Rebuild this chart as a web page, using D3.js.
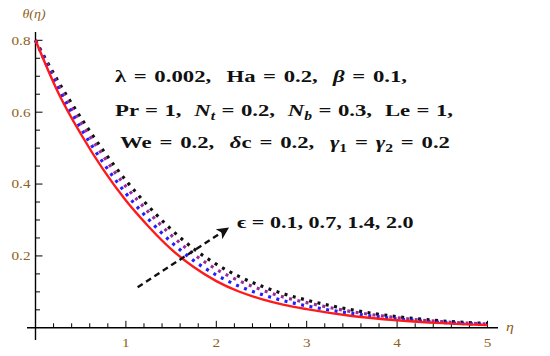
<!DOCTYPE html>
<html>
<head>
<meta charset="utf-8">
<script src="https://cdn.jsdelivr.net/npm/d3@7"></script>
<style>
  body { margin: 0; background: #fff; }
  svg { display: block; }
</style>
</head>
<body>
<div id="chart"></div>
<script>
// eta grid and theta(eta) profiles
var eta = [0, 0.25, 0.5, 0.75, 1, 1.25, 1.5, 1.75, 2, 2.25, 2.5, 2.75, 3, 3.5, 4, 4.5, 5];
var theta_01 = [0.800, 0.655, 0.540, 0.440, 0.354, 0.282, 0.219, 0.169, 0.130, 0.101, 0.080, 0.064, 0.052, 0.033, 0.021, 0.013, 0.0075];
var theta_07 = [0.800, 0.666, 0.556, 0.459, 0.374, 0.302, 0.239, 0.187, 0.147, 0.116, 0.093, 0.075, 0.061, 0.040, 0.025, 0.015, 0.009];
var theta_14 = [0.800, 0.676, 0.572, 0.478, 0.393, 0.322, 0.258, 0.205, 0.163, 0.131, 0.106, 0.085, 0.070, 0.045, 0.028, 0.017, 0.0105];
var theta_20 = [0.800, 0.686, 0.585, 0.493, 0.410, 0.338, 0.274, 0.220, 0.177, 0.143, 0.116, 0.094, 0.077, 0.050, 0.031, 0.019, 0.012];

var xMajor = [1, 2, 3, 4, 5];
var yMajor = [0.2, 0.4, 0.6, 0.8];

// arrow annotation, in data units (start, end)
var arrowPts = [[1.13, 0.113], [2.13, 0.277]];

var width = 550, height = 356;
var serif = "'Liberation Serif', 'Times New Roman', 'DejaVu Serif', serif";
var sx = 1.22;   // tick labels are a little stretched sideways
var sxBig = 1.3; // and so is the annotation text

var svg = d3.select("#chart").append("svg")
  .attr("width", width)
  .attr("height", height)
  .attr("font-family", serif);

var x = d3.scaleLinear().domain([0, 5]).range([35.5, 487.5]);
var y = d3.scaleLinear().domain([0, 0.8]).range([327.8, 40.3]);

var labelColor = "#8f5f22";

// axes
svg.append("line")
  .attr("x1", 27).attr("x2", 498)
  .attr("y1", y(0)).attr("y2", y(0))
  .attr("stroke", "#000").attr("stroke-width", 1.4);
svg.append("line")
  .attr("x1", x(0)).attr("x2", x(0))
  .attr("y1", 32).attr("y2", 340)
  .attr("stroke", "#000").attr("stroke-width", 1.4);

// x ticks (inward), minor every 0.2
var xTicks = d3.range(0.2, 5.01, 0.2);
svg.append("g").selectAll("line")
  .data(xTicks)
  .enter().append("line")
  .attr("x1", (d) => x(d)).attr("x2", (d) => x(d))
  .attr("y1", y(0))
  .attr("y2", (d) => (Math.abs(d - Math.round(d)) < 1e-6 ? y(0) - 7 : y(0) - 4.5))
  .attr("stroke", "#000").attr("stroke-width", 1);

svg.append("g").selectAll("text")
  .data(xMajor)
  .enter().append("text")
  .attr("transform", (d) => "translate(" + x(d) + "," + (y(0) + 19) + ") scale(" + sx + ",1)")
  .attr("text-anchor", "middle")
  .attr("font-size", 12.5)
  .attr("fill", labelColor)
  .text((d) => d);

// y ticks (inward), minor every 0.05
var yTicks = d3.range(0.05, 0.801, 0.05);
svg.append("g").selectAll("line")
  .data(yTicks)
  .enter().append("line")
  .attr("x1", x(0))
  .attr("x2", (d) => (Math.abs(d * 5 - Math.round(d * 5)) < 1e-6 ? x(0) + 7 : x(0) + 4.5))
  .attr("y1", (d) => y(d)).attr("y2", (d) => y(d))
  .attr("stroke", "#000").attr("stroke-width", 1);

svg.append("g").selectAll("text")
  .data(yMajor)
  .enter().append("text")
  .attr("transform", (d) => "translate(" + (x(0) - 5) + "," + y(d) + ") scale(" + sx + ",1)")
  .attr("dy", "0.35em")
  .attr("text-anchor", "end")
  .attr("font-size", 12.5)
  .attr("fill", labelColor)
  .text((d) => d.toFixed(1));

// axis labels
svg.append("text")
  .attr("transform", "translate(34,18) scale(" + sx + ",1)")
  .attr("text-anchor", "middle")
  .attr("font-size", 11.5)
  .attr("font-style", "italic")
  .attr("fill", labelColor)
  .text("\u03B8(\u03B7)");
svg.append("text")
  .attr("transform", "translate(506,331) scale(" + sx + ",1)")
  .attr("font-size", 13)
  .attr("font-style", "italic")
  .attr("fill", labelColor)
  .text("\u03B7");

// curves
var line = d3.line()
  .x((d) => x(d[0]))
  .y((d) => y(d[1]))
  .curve(d3.curveMonotoneX);

var series = [
  { vals: theta_20, color: "#111111", dash: "3,5.5", w: 3.2 },
  { vals: theta_14, color: "#9b2a9b", dash: "3,5.5", w: 3.2 },
  { vals: theta_07, color: "#1f1fff", dash: "3,5.5", w: 3.2 },
  { vals: theta_01, color: "#ff1a1a", dash: null, w: 2.4 },
];

series.forEach(function (s) {
  svg.append("path")
    .datum(eta.map((e, i) => [e, s.vals[i]]))
    .attr("d", line)
    .attr("fill", "none")
    .attr("stroke", s.color)
    .attr("stroke-width", s.w)
    .attr("stroke-dasharray", s.dash);
});

// arrow
svg.append("defs").append("marker")
  .attr("id", "head")
  .attr("viewBox", "0 0 10 10")
  .attr("refX", 9).attr("refY", 5)
  .attr("markerWidth", 5.5).attr("markerHeight", 5)
  .attr("markerUnits", "strokeWidth")
  .attr("orient", "auto")
  .append("path")
  .attr("d", "M0,0 L10,5 L0,10 L2.5,5 Z")
  .attr("fill", "#111");

svg.append("line")
  .attr("x1", x(arrowPts[0][0])).attr("y1", y(arrowPts[0][1]))
  .attr("x2", x(arrowPts[1][0])).attr("y2", y(arrowPts[1][1]))
  .attr("stroke", "#111")
  .attr("stroke-width", 2.4)
  .attr("stroke-dasharray", "6,4")
  .attr("marker-end", "url(#head)");

// annotation text: stretched by sxBig, then spaces widened until each
// line spans the same width as in the picture
var notes = svg.append("g")
  .attr("font-weight", "bold")
  .attr("fill", "#111");

function noteLine(px, py, target, size) {
  var t = notes.append("text")
    .attr("transform", "translate(" + px + "," + py + ") scale(" + sxBig + ",1)")
    .attr("font-size", size)
    .attr("xml:space", "preserve");
  t.target = target;
  return t;
}

function fitLine(t) {
  var node = t.node();
  var natural = node.getComputedTextLength();
  var spaces = (node.textContent.match(/ /g) || []).length;
  var ws = (t.target / sxBig - natural) / spaces;
  t.attr("word-spacing", Math.max(0, ws));
}

var l0 = noteLine(237, 228, 173, 17);
l0.text("\u03F5 = 0.1, 0.7, 1.4, 2.0");

var l1 = noteLine(115, 82, 292, 17.5);
l1.append("tspan").text("\u03BB = 0.002,  Ha = 0.2,  ");
l1.append("tspan").attr("font-style", "italic").text("\u03B2");
l1.append("tspan").text(" = 0.1,");

var l2 = noteLine(115, 116, 338, 17.5);
l2.append("tspan").text("Pr = 1,  ");
l2.append("tspan").attr("font-style", "italic").text("N");
l2.append("tspan").attr("font-style", "italic").attr("font-size", 12).attr("dy", 4).text("t");
l2.append("tspan").attr("dy", -4).text(" = 0.2,  ");
l2.append("tspan").attr("font-style", "italic").text("N");
l2.append("tspan").attr("font-style", "italic").attr("font-size", 12).attr("dy", 4).text("b");
l2.append("tspan").attr("dy", -4).text(" = 0.3,  Le = 1,");

var l3 = noteLine(120, 148, 330, 17.5);
l3.append("tspan").text("We = 0.2,  ");
l3.append("tspan").attr("font-style", "italic").text("\u03B4");
l3.append("tspan").text("c = 0.2,  ");
l3.append("tspan").attr("font-style", "italic").text("\u03B3");
l3.append("tspan").attr("font-size", 12).attr("dy", 4).text("1");
l3.append("tspan").attr("dy", -4).text(" = ");
l3.append("tspan").attr("font-style", "italic").text("\u03B3");
l3.append("tspan").attr("font-size", 12).attr("dy", 4).text("2");
l3.append("tspan").attr("dy", -4).text(" = 0.2");

[l0, l1, l2, l3].forEach(fitLine);
</script>
</body>
</html>
